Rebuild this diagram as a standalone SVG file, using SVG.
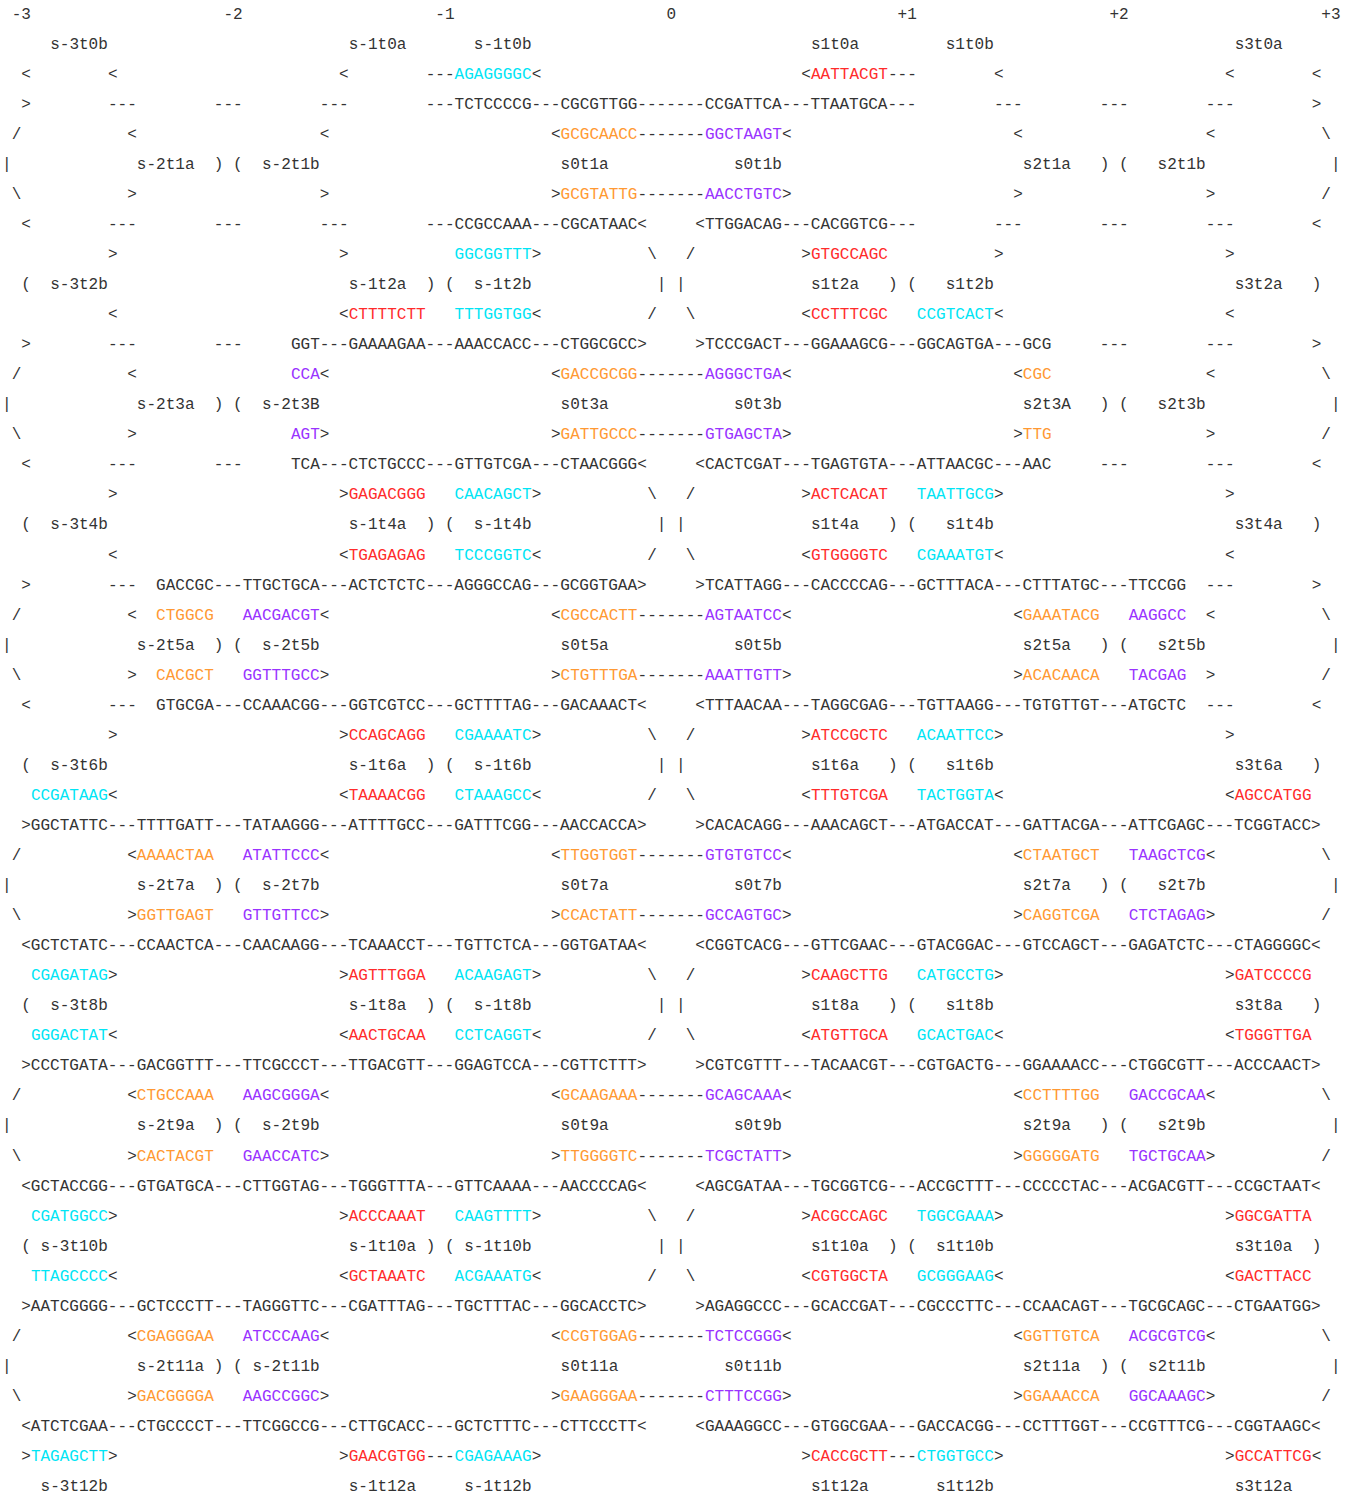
<svg xmlns="http://www.w3.org/2000/svg" width="1355" height="1494" viewBox="0 0 1355 1494">
<style>
text{font-family:"Liberation Mono","Courier New",monospace;font-size:16.05px;fill:#333;white-space:pre}
.c{fill:#00e5f5}
.r{fill:#ff2b2b}
.o{fill:#ff9933}
.p{fill:#9933ff}
</style>
<rect width="1355" height="1494" fill="#ffffff"/>
<g id="header">
<text id="L01" y="18.6"><tspan x="11.63">-3</tspan><tspan x="223.49">-2</tspan><tspan x="435.35">-1</tspan><tspan x="666.47">0</tspan><tspan x="897.59">+1</tspan><tspan x="1109.45">+2</tspan><tspan x="1321.31">+3</tspan></text>
<text id="L02" y="48.65"><tspan x="50.15">s-3t0b</tspan><tspan x="348.68">s-1t0a</tspan><tspan x="473.87">s-1t0b</tspan><tspan x="810.92">s1t0a</tspan><tspan x="945.74">s1t0b</tspan><tspan x="1234.64">s3t0a</tspan></text>
</g>
<g id="block-t0-t2">
<text id="L03" y="78.7"><tspan x="21.26">&lt;</tspan><tspan x="107.93">&lt;</tspan><tspan x="339.05">&lt;</tspan><tspan x="425.72">---</tspan><tspan x="454.61" class="c">AGAGGGGC</tspan><tspan x="531.65">&lt;</tspan><tspan x="801.29">&lt;</tspan><tspan x="810.92" class="r">AATTACGT</tspan><tspan x="887.96">---</tspan><tspan x="993.89">&lt;</tspan><tspan x="1225.01">&lt;</tspan><tspan x="1311.68">&lt;</tspan></text>
<text id="L04" y="108.75"><tspan x="21.26">&gt;</tspan><tspan x="107.93">---</tspan><tspan x="213.86">---</tspan><tspan x="319.79">---</tspan><tspan x="425.72">---TCTCCCCG---CGCGTTGG-------CCGATTCA---TTAATGCA---</tspan><tspan x="993.89">---</tspan><tspan x="1099.82">---</tspan><tspan x="1205.75">---</tspan><tspan x="1311.68">&gt;</tspan></text>
<text id="L05" y="138.8"><tspan x="11.63">/</tspan><tspan x="127.19">&lt;</tspan><tspan x="319.79">&lt;</tspan><tspan x="550.91">&lt;</tspan><tspan x="560.54" class="o">GCGCAACC</tspan><tspan x="637.58">-------</tspan><tspan x="704.99" class="p">GGCTAAGT</tspan><tspan x="782.03">&lt;</tspan><tspan x="1013.15">&lt;</tspan><tspan x="1205.75">&lt;</tspan><tspan x="1321.31">\</tspan></text>
<text id="L06" y="168.85"><tspan x="2">|</tspan><tspan x="136.82">s-2t1a</tspan><tspan x="213.86">)</tspan><tspan x="233.12">(</tspan><tspan x="262.01">s-2t1b</tspan><tspan x="560.54">s0t1a</tspan><tspan x="733.88">s0t1b</tspan><tspan x="1022.78">s2t1a</tspan><tspan x="1099.82">)</tspan><tspan x="1119.08">(</tspan><tspan x="1157.6">s2t1b</tspan><tspan x="1330.94">|</tspan></text>
<text id="L07" y="198.9"><tspan x="11.63">\</tspan><tspan x="127.19">&gt;</tspan><tspan x="319.79">&gt;</tspan><tspan x="550.91">&gt;</tspan><tspan x="560.54" class="o">GCGTATTG</tspan><tspan x="637.58">-------</tspan><tspan x="704.99" class="p">AACCTGTC</tspan><tspan x="782.03">&gt;</tspan><tspan x="1013.15">&gt;</tspan><tspan x="1205.75">&gt;</tspan><tspan x="1321.31">/</tspan></text>
<text id="L08" y="228.95"><tspan x="21.26">&lt;</tspan><tspan x="107.93">---</tspan><tspan x="213.86">---</tspan><tspan x="319.79">---</tspan><tspan x="425.72">---CCGCCAAA---CGCATAAC&lt;</tspan><tspan x="695.36">&lt;TTGGACAG---CACGGTCG---</tspan><tspan x="993.89">---</tspan><tspan x="1099.82">---</tspan><tspan x="1205.75">---</tspan><tspan x="1311.68">&lt;</tspan></text>
<text id="L09" y="259.0"><tspan x="107.93">&gt;</tspan><tspan x="339.05">&gt;</tspan><tspan x="454.61" class="c">GGCGGTTT</tspan><tspan x="531.65">&gt;</tspan><tspan x="647.21">\</tspan><tspan x="685.73">/</tspan><tspan x="801.29">&gt;</tspan><tspan x="810.92" class="r">GTGCCAGC</tspan><tspan x="993.89">&gt;</tspan><tspan x="1225.01">&gt;</tspan></text>
<text id="L10" y="289.05"><tspan x="21.26">(</tspan><tspan x="50.15">s-3t2b</tspan><tspan x="348.68">s-1t2a</tspan><tspan x="425.72">)</tspan><tspan x="444.98">(</tspan><tspan x="473.87">s-1t2b</tspan><tspan x="656.84">|</tspan><tspan x="676.1">|</tspan><tspan x="810.92">s1t2a</tspan><tspan x="887.96">)</tspan><tspan x="907.22">(</tspan><tspan x="945.74">s1t2b</tspan><tspan x="1234.64">s3t2a</tspan><tspan x="1311.68">)</tspan></text>
</g>
<g id="block-t2-t4">
<text id="L11" y="319.1"><tspan x="107.93">&lt;</tspan><tspan x="339.05">&lt;</tspan><tspan x="348.68" class="r">CTTTTCTT</tspan><tspan x="454.61" class="c">TTTGGTGG</tspan><tspan x="531.65">&lt;</tspan><tspan x="647.21">/</tspan><tspan x="685.73">\</tspan><tspan x="801.29">&lt;</tspan><tspan x="810.92" class="r">CCTTTCGC</tspan><tspan x="916.85" class="c">CCGTCACT</tspan><tspan x="993.89">&lt;</tspan><tspan x="1225.01">&lt;</tspan></text>
<text id="L12" y="349.15"><tspan x="21.26">&gt;</tspan><tspan x="107.93">---</tspan><tspan x="213.86">---</tspan><tspan x="290.9">GGT---GAAAAGAA---AAACCACC---CTGGCGCC&gt;</tspan><tspan x="695.36">&gt;TCCCGACT---GGAAAGCG---GGCAGTGA---GCG</tspan><tspan x="1099.82">---</tspan><tspan x="1205.75">---</tspan><tspan x="1311.68">&gt;</tspan></text>
<text id="L13" y="379.2"><tspan x="11.63">/</tspan><tspan x="127.19">&lt;</tspan><tspan x="290.9" class="p">CCA</tspan><tspan x="319.79">&lt;</tspan><tspan x="550.91">&lt;</tspan><tspan x="560.54" class="o">GACCGCGG</tspan><tspan x="637.58">-------</tspan><tspan x="704.99" class="p">AGGGCTGA</tspan><tspan x="782.03">&lt;</tspan><tspan x="1013.15">&lt;</tspan><tspan x="1022.78" class="o">CGC</tspan><tspan x="1205.75">&lt;</tspan><tspan x="1321.31">\</tspan></text>
<text id="L14" y="409.25"><tspan x="2">|</tspan><tspan x="136.82">s-2t3a</tspan><tspan x="213.86">)</tspan><tspan x="233.12">(</tspan><tspan x="262.01">s-2t3B</tspan><tspan x="560.54">s0t3a</tspan><tspan x="733.88">s0t3b</tspan><tspan x="1022.78">s2t3A</tspan><tspan x="1099.82">)</tspan><tspan x="1119.08">(</tspan><tspan x="1157.6">s2t3b</tspan><tspan x="1330.94">|</tspan></text>
<text id="L15" y="439.3"><tspan x="11.63">\</tspan><tspan x="127.19">&gt;</tspan><tspan x="290.9" class="p">AGT</tspan><tspan x="319.79">&gt;</tspan><tspan x="550.91">&gt;</tspan><tspan x="560.54" class="o">GATTGCCC</tspan><tspan x="637.58">-------</tspan><tspan x="704.99" class="p">GTGAGCTA</tspan><tspan x="782.03">&gt;</tspan><tspan x="1013.15">&gt;</tspan><tspan x="1022.78" class="o">TTG</tspan><tspan x="1205.75">&gt;</tspan><tspan x="1321.31">/</tspan></text>
<text id="L16" y="469.35"><tspan x="21.26">&lt;</tspan><tspan x="107.93">---</tspan><tspan x="213.86">---</tspan><tspan x="290.9">TCA---CTCTGCCC---GTTGTCGA---CTAACGGG&lt;</tspan><tspan x="695.36">&lt;CACTCGAT---TGAGTGTA---ATTAACGC---AAC</tspan><tspan x="1099.82">---</tspan><tspan x="1205.75">---</tspan><tspan x="1311.68">&lt;</tspan></text>
<text id="L17" y="499.4"><tspan x="107.93">&gt;</tspan><tspan x="339.05">&gt;</tspan><tspan x="348.68" class="r">GAGACGGG</tspan><tspan x="454.61" class="c">CAACAGCT</tspan><tspan x="531.65">&gt;</tspan><tspan x="647.21">\</tspan><tspan x="685.73">/</tspan><tspan x="801.29">&gt;</tspan><tspan x="810.92" class="r">ACTCACAT</tspan><tspan x="916.85" class="c">TAATTGCG</tspan><tspan x="993.89">&gt;</tspan><tspan x="1225.01">&gt;</tspan></text>
<text id="L18" y="529.45"><tspan x="21.26">(</tspan><tspan x="50.15">s-3t4b</tspan><tspan x="348.68">s-1t4a</tspan><tspan x="425.72">)</tspan><tspan x="444.98">(</tspan><tspan x="473.87">s-1t4b</tspan><tspan x="656.84">|</tspan><tspan x="676.1">|</tspan><tspan x="810.92">s1t4a</tspan><tspan x="887.96">)</tspan><tspan x="907.22">(</tspan><tspan x="945.74">s1t4b</tspan><tspan x="1234.64">s3t4a</tspan><tspan x="1311.68">)</tspan></text>
</g>
<g id="block-t4-t6">
<text id="L19" y="559.5"><tspan x="107.93">&lt;</tspan><tspan x="339.05">&lt;</tspan><tspan x="348.68" class="r">TGAGAGAG</tspan><tspan x="454.61" class="c">TCCCGGTC</tspan><tspan x="531.65">&lt;</tspan><tspan x="647.21">/</tspan><tspan x="685.73">\</tspan><tspan x="801.29">&lt;</tspan><tspan x="810.92" class="r">GTGGGGTC</tspan><tspan x="916.85" class="c">CGAAATGT</tspan><tspan x="993.89">&lt;</tspan><tspan x="1225.01">&lt;</tspan></text>
<text id="L20" y="589.55"><tspan x="21.26">&gt;</tspan><tspan x="107.93">---</tspan><tspan x="156.08">GACCGC---TTGCTGCA---ACTCTCTC---AGGGCCAG---GCGGTGAA&gt;</tspan><tspan x="695.36">&gt;TCATTAGG---CACCCCAG---GCTTTACA---CTTTATGC---TTCCGG</tspan><tspan x="1205.75">---</tspan><tspan x="1311.68">&gt;</tspan></text>
<text id="L21" y="619.6"><tspan x="11.63">/</tspan><tspan x="127.19">&lt;</tspan><tspan x="156.08" class="o">CTGGCG</tspan><tspan x="242.75" class="p">AACGACGT</tspan><tspan x="319.79">&lt;</tspan><tspan x="550.91">&lt;</tspan><tspan x="560.54" class="o">CGCCACTT</tspan><tspan x="637.58">-------</tspan><tspan x="704.99" class="p">AGTAATCC</tspan><tspan x="782.03">&lt;</tspan><tspan x="1013.15">&lt;</tspan><tspan x="1022.78" class="o">GAAATACG</tspan><tspan x="1128.71" class="p">AAGGCC</tspan><tspan x="1205.75">&lt;</tspan><tspan x="1321.31">\</tspan></text>
<text id="L22" y="649.65"><tspan x="2">|</tspan><tspan x="136.82">s-2t5a</tspan><tspan x="213.86">)</tspan><tspan x="233.12">(</tspan><tspan x="262.01">s-2t5b</tspan><tspan x="560.54">s0t5a</tspan><tspan x="733.88">s0t5b</tspan><tspan x="1022.78">s2t5a</tspan><tspan x="1099.82">)</tspan><tspan x="1119.08">(</tspan><tspan x="1157.6">s2t5b</tspan><tspan x="1330.94">|</tspan></text>
<text id="L23" y="679.7"><tspan x="11.63">\</tspan><tspan x="127.19">&gt;</tspan><tspan x="156.08" class="o">CACGCT</tspan><tspan x="242.75" class="p">GGTTTGCC</tspan><tspan x="319.79">&gt;</tspan><tspan x="550.91">&gt;</tspan><tspan x="560.54" class="o">CTGTTTGA</tspan><tspan x="637.58">-------</tspan><tspan x="704.99" class="p">AAATTGTT</tspan><tspan x="782.03">&gt;</tspan><tspan x="1013.15">&gt;</tspan><tspan x="1022.78" class="o">ACACAACA</tspan><tspan x="1128.71" class="p">TACGAG</tspan><tspan x="1205.75">&gt;</tspan><tspan x="1321.31">/</tspan></text>
<text id="L24" y="709.75"><tspan x="21.26">&lt;</tspan><tspan x="107.93">---</tspan><tspan x="156.08">GTGCGA---CCAAACGG---GGTCGTCC---GCTTTTAG---GACAAACT&lt;</tspan><tspan x="695.36">&lt;TTTAACAA---TAGGCGAG---TGTTAAGG---TGTGTTGT---ATGCTC</tspan><tspan x="1205.75">---</tspan><tspan x="1311.68">&lt;</tspan></text>
<text id="L25" y="739.8"><tspan x="107.93">&gt;</tspan><tspan x="339.05">&gt;</tspan><tspan x="348.68" class="r">CCAGCAGG</tspan><tspan x="454.61" class="c">CGAAAATC</tspan><tspan x="531.65">&gt;</tspan><tspan x="647.21">\</tspan><tspan x="685.73">/</tspan><tspan x="801.29">&gt;</tspan><tspan x="810.92" class="r">ATCCGCTC</tspan><tspan x="916.85" class="c">ACAATTCC</tspan><tspan x="993.89">&gt;</tspan><tspan x="1225.01">&gt;</tspan></text>
<text id="L26" y="769.85"><tspan x="21.26">(</tspan><tspan x="50.15">s-3t6b</tspan><tspan x="348.68">s-1t6a</tspan><tspan x="425.72">)</tspan><tspan x="444.98">(</tspan><tspan x="473.87">s-1t6b</tspan><tspan x="656.84">|</tspan><tspan x="676.1">|</tspan><tspan x="810.92">s1t6a</tspan><tspan x="887.96">)</tspan><tspan x="907.22">(</tspan><tspan x="945.74">s1t6b</tspan><tspan x="1234.64">s3t6a</tspan><tspan x="1311.68">)</tspan></text>
</g>
<g id="block-t6-t8">
<text id="L27" y="799.9"><tspan x="30.89" class="c">CCGATAAG</tspan><tspan x="107.93">&lt;</tspan><tspan x="339.05">&lt;</tspan><tspan x="348.68" class="r">TAAAACGG</tspan><tspan x="454.61" class="c">CTAAAGCC</tspan><tspan x="531.65">&lt;</tspan><tspan x="647.21">/</tspan><tspan x="685.73">\</tspan><tspan x="801.29">&lt;</tspan><tspan x="810.92" class="r">TTTGTCGA</tspan><tspan x="916.85" class="c">TACTGGTA</tspan><tspan x="993.89">&lt;</tspan><tspan x="1225.01">&lt;</tspan><tspan x="1234.64" class="r">AGCCATGG</tspan></text>
<text id="L28" y="829.95"><tspan x="21.26">&gt;GGCTATTC---TTTTGATT---TATAAGGG---ATTTTGCC---GATTTCGG---AACCACCA&gt;</tspan><tspan x="695.36">&gt;CACACAGG---AAACAGCT---ATGACCAT---GATTACGA---ATTCGAGC---TCGGTACC&gt;</tspan></text>
<text id="L29" y="860.0"><tspan x="11.63">/</tspan><tspan x="127.19">&lt;</tspan><tspan x="136.82" class="o">AAAACTAA</tspan><tspan x="242.75" class="p">ATATTCCC</tspan><tspan x="319.79">&lt;</tspan><tspan x="550.91">&lt;</tspan><tspan x="560.54" class="o">TTGGTGGT</tspan><tspan x="637.58">-------</tspan><tspan x="704.99" class="p">GTGTGTCC</tspan><tspan x="782.03">&lt;</tspan><tspan x="1013.15">&lt;</tspan><tspan x="1022.78" class="o">CTAATGCT</tspan><tspan x="1128.71" class="p">TAAGCTCG</tspan><tspan x="1205.75">&lt;</tspan><tspan x="1321.31">\</tspan></text>
<text id="L30" y="890.05"><tspan x="2">|</tspan><tspan x="136.82">s-2t7a</tspan><tspan x="213.86">)</tspan><tspan x="233.12">(</tspan><tspan x="262.01">s-2t7b</tspan><tspan x="560.54">s0t7a</tspan><tspan x="733.88">s0t7b</tspan><tspan x="1022.78">s2t7a</tspan><tspan x="1099.82">)</tspan><tspan x="1119.08">(</tspan><tspan x="1157.6">s2t7b</tspan><tspan x="1330.94">|</tspan></text>
<text id="L31" y="920.1"><tspan x="11.63">\</tspan><tspan x="127.19">&gt;</tspan><tspan x="136.82" class="o">GGTTGAGT</tspan><tspan x="242.75" class="p">GTTGTTCC</tspan><tspan x="319.79">&gt;</tspan><tspan x="550.91">&gt;</tspan><tspan x="560.54" class="o">CCACTATT</tspan><tspan x="637.58">-------</tspan><tspan x="704.99" class="p">GCCAGTGC</tspan><tspan x="782.03">&gt;</tspan><tspan x="1013.15">&gt;</tspan><tspan x="1022.78" class="o">CAGGTCGA</tspan><tspan x="1128.71" class="p">CTCTAGAG</tspan><tspan x="1205.75">&gt;</tspan><tspan x="1321.31">/</tspan></text>
<text id="L32" y="950.15"><tspan x="21.26">&lt;GCTCTATC---CCAACTCA---CAACAAGG---TCAAACCT---TGTTCTCA---GGTGATAA&lt;</tspan><tspan x="695.36">&lt;CGGTCACG---GTTCGAAC---GTACGGAC---GTCCAGCT---GAGATCTC---CTAGGGGC&lt;</tspan></text>
<text id="L33" y="980.2"><tspan x="30.89" class="c">CGAGATAG</tspan><tspan x="107.93">&gt;</tspan><tspan x="339.05">&gt;</tspan><tspan x="348.68" class="r">AGTTTGGA</tspan><tspan x="454.61" class="c">ACAAGAGT</tspan><tspan x="531.65">&gt;</tspan><tspan x="647.21">\</tspan><tspan x="685.73">/</tspan><tspan x="801.29">&gt;</tspan><tspan x="810.92" class="r">CAAGCTTG</tspan><tspan x="916.85" class="c">CATGCCTG</tspan><tspan x="993.89">&gt;</tspan><tspan x="1225.01">&gt;</tspan><tspan x="1234.64" class="r">GATCCCCG</tspan></text>
<text id="L34" y="1010.25"><tspan x="21.26">(</tspan><tspan x="50.15">s-3t8b</tspan><tspan x="348.68">s-1t8a</tspan><tspan x="425.72">)</tspan><tspan x="444.98">(</tspan><tspan x="473.87">s-1t8b</tspan><tspan x="656.84">|</tspan><tspan x="676.1">|</tspan><tspan x="810.92">s1t8a</tspan><tspan x="887.96">)</tspan><tspan x="907.22">(</tspan><tspan x="945.74">s1t8b</tspan><tspan x="1234.64">s3t8a</tspan><tspan x="1311.68">)</tspan></text>
</g>
<g id="block-t8-t10">
<text id="L35" y="1040.3"><tspan x="30.89" class="c">GGGACTAT</tspan><tspan x="107.93">&lt;</tspan><tspan x="339.05">&lt;</tspan><tspan x="348.68" class="r">AACTGCAA</tspan><tspan x="454.61" class="c">CCTCAGGT</tspan><tspan x="531.65">&lt;</tspan><tspan x="647.21">/</tspan><tspan x="685.73">\</tspan><tspan x="801.29">&lt;</tspan><tspan x="810.92" class="r">ATGTTGCA</tspan><tspan x="916.85" class="c">GCACTGAC</tspan><tspan x="993.89">&lt;</tspan><tspan x="1225.01">&lt;</tspan><tspan x="1234.64" class="r">TGGGTTGA</tspan></text>
<text id="L36" y="1070.35"><tspan x="21.26">&gt;CCCTGATA---GACGGTTT---TTCGCCCT---TTGACGTT---GGAGTCCA---CGTTCTTT&gt;</tspan><tspan x="695.36">&gt;CGTCGTTT---TACAACGT---CGTGACTG---GGAAAACC---CTGGCGTT---ACCCAACT&gt;</tspan></text>
<text id="L37" y="1100.4"><tspan x="11.63">/</tspan><tspan x="127.19">&lt;</tspan><tspan x="136.82" class="o">CTGCCAAA</tspan><tspan x="242.75" class="p">AAGCGGGA</tspan><tspan x="319.79">&lt;</tspan><tspan x="550.91">&lt;</tspan><tspan x="560.54" class="o">GCAAGAAA</tspan><tspan x="637.58">-------</tspan><tspan x="704.99" class="p">GCAGCAAA</tspan><tspan x="782.03">&lt;</tspan><tspan x="1013.15">&lt;</tspan><tspan x="1022.78" class="o">CCTTTTGG</tspan><tspan x="1128.71" class="p">GACCGCAA</tspan><tspan x="1205.75">&lt;</tspan><tspan x="1321.31">\</tspan></text>
<text id="L38" y="1130.45"><tspan x="2">|</tspan><tspan x="136.82">s-2t9a</tspan><tspan x="213.86">)</tspan><tspan x="233.12">(</tspan><tspan x="262.01">s-2t9b</tspan><tspan x="560.54">s0t9a</tspan><tspan x="733.88">s0t9b</tspan><tspan x="1022.78">s2t9a</tspan><tspan x="1099.82">)</tspan><tspan x="1119.08">(</tspan><tspan x="1157.6">s2t9b</tspan><tspan x="1330.94">|</tspan></text>
<text id="L39" y="1160.5"><tspan x="11.63">\</tspan><tspan x="127.19">&gt;</tspan><tspan x="136.82" class="o">CACTACGT</tspan><tspan x="242.75" class="p">GAACCATC</tspan><tspan x="319.79">&gt;</tspan><tspan x="550.91">&gt;</tspan><tspan x="560.54" class="o">TTGGGGTC</tspan><tspan x="637.58">-------</tspan><tspan x="704.99" class="p">TCGCTATT</tspan><tspan x="782.03">&gt;</tspan><tspan x="1013.15">&gt;</tspan><tspan x="1022.78" class="o">GGGGGATG</tspan><tspan x="1128.71" class="p">TGCTGCAA</tspan><tspan x="1205.75">&gt;</tspan><tspan x="1321.31">/</tspan></text>
<text id="L40" y="1190.55"><tspan x="21.26">&lt;GCTACCGG---GTGATGCA---CTTGGTAG---TGGGTTTA---GTTCAAAA---AACCCCAG&lt;</tspan><tspan x="695.36">&lt;AGCGATAA---TGCGGTCG---ACCGCTTT---CCCCCTAC---ACGACGTT---CCGCTAAT&lt;</tspan></text>
<text id="L41" y="1220.6"><tspan x="30.89" class="c">CGATGGCC</tspan><tspan x="107.93">&gt;</tspan><tspan x="339.05">&gt;</tspan><tspan x="348.68" class="r">ACCCAAAT</tspan><tspan x="454.61" class="c">CAAGTTTT</tspan><tspan x="531.65">&gt;</tspan><tspan x="647.21">\</tspan><tspan x="685.73">/</tspan><tspan x="801.29">&gt;</tspan><tspan x="810.92" class="r">ACGCCAGC</tspan><tspan x="916.85" class="c">TGGCGAAA</tspan><tspan x="993.89">&gt;</tspan><tspan x="1225.01">&gt;</tspan><tspan x="1234.64" class="r">GGCGATTA</tspan></text>
<text id="L42" y="1250.65"><tspan x="21.26">(</tspan><tspan x="40.52">s-3t10b</tspan><tspan x="348.68">s-1t10a</tspan><tspan x="425.72">)</tspan><tspan x="444.98">(</tspan><tspan x="464.24">s-1t10b</tspan><tspan x="656.84">|</tspan><tspan x="676.1">|</tspan><tspan x="810.92">s1t10a</tspan><tspan x="887.96">)</tspan><tspan x="907.22">(</tspan><tspan x="936.11">s1t10b</tspan><tspan x="1234.64">s3t10a</tspan><tspan x="1311.68">)</tspan></text>
</g>
<g id="block-t10-t12">
<text id="L43" y="1280.7"><tspan x="30.89" class="c">TTAGCCCC</tspan><tspan x="107.93">&lt;</tspan><tspan x="339.05">&lt;</tspan><tspan x="348.68" class="r">GCTAAATC</tspan><tspan x="454.61" class="c">ACGAAATG</tspan><tspan x="531.65">&lt;</tspan><tspan x="647.21">/</tspan><tspan x="685.73">\</tspan><tspan x="801.29">&lt;</tspan><tspan x="810.92" class="r">CGTGGCTA</tspan><tspan x="916.85" class="c">GCGGGAAG</tspan><tspan x="993.89">&lt;</tspan><tspan x="1225.01">&lt;</tspan><tspan x="1234.64" class="r">GACTTACC</tspan></text>
<text id="L44" y="1310.75"><tspan x="21.26">&gt;AATCGGGG---GCTCCCTT---TAGGGTTC---CGATTTAG---TGCTTTAC---GGCACCTC&gt;</tspan><tspan x="695.36">&gt;AGAGGCCC---GCACCGAT---CGCCCTTC---CCAACAGT---TGCGCAGC---CTGAATGG&gt;</tspan></text>
<text id="L45" y="1340.8"><tspan x="11.63">/</tspan><tspan x="127.19">&lt;</tspan><tspan x="136.82" class="o">CGAGGGAA</tspan><tspan x="242.75" class="p">ATCCCAAG</tspan><tspan x="319.79">&lt;</tspan><tspan x="550.91">&lt;</tspan><tspan x="560.54" class="o">CCGTGGAG</tspan><tspan x="637.58">-------</tspan><tspan x="704.99" class="p">TCTCCGGG</tspan><tspan x="782.03">&lt;</tspan><tspan x="1013.15">&lt;</tspan><tspan x="1022.78" class="o">GGTTGTCA</tspan><tspan x="1128.71" class="p">ACGCGTCG</tspan><tspan x="1205.75">&lt;</tspan><tspan x="1321.31">\</tspan></text>
<text id="L46" y="1370.85"><tspan x="2">|</tspan><tspan x="136.82">s-2t11a</tspan><tspan x="213.86">)</tspan><tspan x="233.12">(</tspan><tspan x="252.38">s-2t11b</tspan><tspan x="560.54">s0t11a</tspan><tspan x="724.25">s0t11b</tspan><tspan x="1022.78">s2t11a</tspan><tspan x="1099.82">)</tspan><tspan x="1119.08">(</tspan><tspan x="1147.97">s2t11b</tspan><tspan x="1330.94">|</tspan></text>
<text id="L47" y="1400.9"><tspan x="11.63">\</tspan><tspan x="127.19">&gt;</tspan><tspan x="136.82" class="o">GACGGGGA</tspan><tspan x="242.75" class="p">AAGCCGGC</tspan><tspan x="319.79">&gt;</tspan><tspan x="550.91">&gt;</tspan><tspan x="560.54" class="o">GAAGGGAA</tspan><tspan x="637.58">-------</tspan><tspan x="704.99" class="p">CTTTCCGG</tspan><tspan x="782.03">&gt;</tspan><tspan x="1013.15">&gt;</tspan><tspan x="1022.78" class="o">GGAAACCA</tspan><tspan x="1128.71" class="p">GGCAAAGC</tspan><tspan x="1205.75">&gt;</tspan><tspan x="1321.31">/</tspan></text>
<text id="L48" y="1430.95"><tspan x="21.26">&lt;ATCTCGAA---CTGCCCCT---TTCGGCCG---CTTGCACC---GCTCTTTC---CTTCCCTT&lt;</tspan><tspan x="695.36">&lt;GAAAGGCC---GTGGCGAA---GACCACGG---CCTTTGGT---CCGTTTCG---CGGTAAGC&lt;</tspan></text>
<text id="L49" y="1461.0"><tspan x="21.26">&gt;</tspan><tspan x="30.89" class="c">TAGAGCTT</tspan><tspan x="107.93">&gt;</tspan><tspan x="339.05">&gt;</tspan><tspan x="348.68" class="r">GAACGTGG</tspan><tspan x="425.72">---</tspan><tspan x="454.61" class="c">CGAGAAAG</tspan><tspan x="531.65">&gt;</tspan><tspan x="801.29">&gt;</tspan><tspan x="810.92" class="r">CACCGCTT</tspan><tspan x="887.96">---</tspan><tspan x="916.85" class="c">CTGGTGCC</tspan><tspan x="993.89">&gt;</tspan><tspan x="1225.01">&gt;</tspan><tspan x="1234.64" class="r">GCCATTCG</tspan><tspan x="1311.68">&lt;</tspan></text>
<text id="L50" y="1491.05"><tspan x="40.52">s-3t12b</tspan><tspan x="348.68">s-1t12a</tspan><tspan x="464.24">s-1t12b</tspan><tspan x="810.92">s1t12a</tspan><tspan x="936.11">s1t12b</tspan><tspan x="1234.64">s3t12a</tspan></text>
</g>
</svg>
